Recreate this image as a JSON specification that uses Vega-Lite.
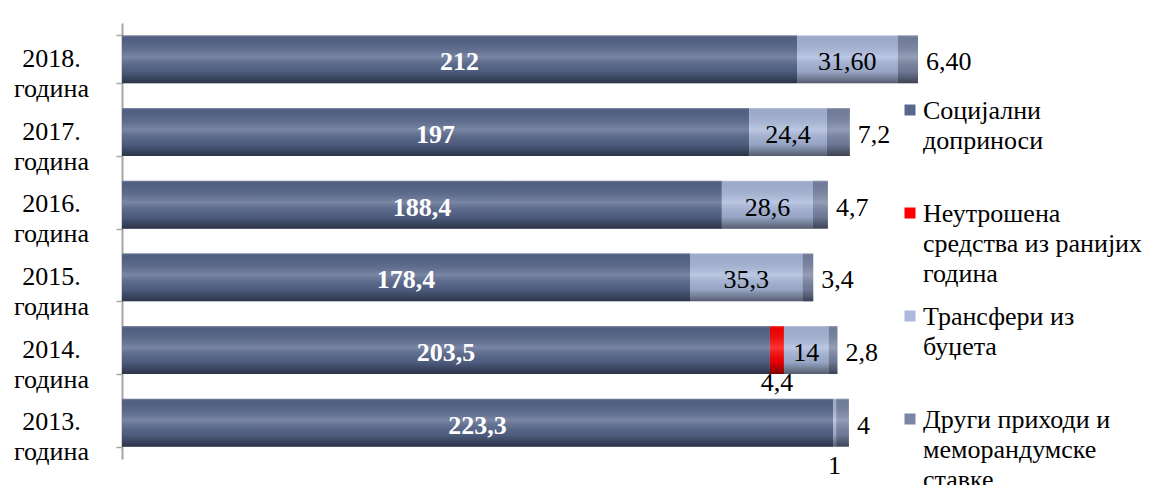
{
  "$schema": "https://vega.github.io/schema/vega-lite/v6.json",
  "autosize": {"type": "none"},
  "width": 796,
  "height": 436,
  "padding": {"left": 122, "top": 23, "right": 231, "bottom": 26},
  "background": "white",
  "config": {"view": {"stroke": null}},
  "data": {
    "values": [
      {"year": "2018.", "series": "Социјални доприноси", "value": 212, "label": "212"},
      {"year": "2018.", "series": "Трансфери из буџета", "value": 31.6, "label": "31,60"},
      {"year": "2018.", "series": "Други приходи и меморандумске ставке", "value": 6.4, "label": "6,40"},
      {"year": "2017.", "series": "Социјални доприноси", "value": 197, "label": "197"},
      {"year": "2017.", "series": "Трансфери из буџета", "value": 24.4, "label": "24,4"},
      {"year": "2017.", "series": "Други приходи и меморандумске ставке", "value": 7.2, "label": "7,2"},
      {"year": "2016.", "series": "Социјални доприноси", "value": 188.4, "label": "188,4"},
      {"year": "2016.", "series": "Трансфери из буџета", "value": 28.6, "label": "28,6"},
      {"year": "2016.", "series": "Други приходи и меморандумске ставке", "value": 4.7, "label": "4,7"},
      {"year": "2015.", "series": "Социјални доприноси", "value": 178.4, "label": "178,4"},
      {"year": "2015.", "series": "Трансфери из буџета", "value": 35.3, "label": "35,3"},
      {"year": "2015.", "series": "Други приходи и меморандумске ставке", "value": 3.4, "label": "3,4"},
      {"year": "2014.", "series": "Социјални доприноси", "value": 203.5, "label": "203,5"},
      {"year": "2014.", "series": "Неутрошена средства из ранијих година", "value": 4.4, "label": "4,4"},
      {"year": "2014.", "series": "Трансфери из буџета", "value": 14, "label": "14"},
      {"year": "2014.", "series": "Други приходи и меморандумске ставке", "value": 2.8, "label": "2,8"},
      {"year": "2013.", "series": "Социјални доприноси", "value": 223.3, "label": "223,3"},
      {"year": "2013.", "series": "Трансфери из буџета", "value": 1, "label": "1"},
      {"year": "2013.", "series": "Други приходи и меморандумске ставке", "value": 4, "label": "4"}
    ]
  },
  "transform": [
    {"calculate": "indexof(['Социјални доприноси','Неутрошена средства из ранијих година','Трансфери из буџета','Други приходи и меморандумске ставке'], datum.series)", "as": "k"},
    {"stack": "value", "groupby": ["year"], "sort": [{"field": "k", "order": "ascending"}], "as": ["x0", "x1"]},
    {"calculate": "(datum.x0 + datum.x1) / 2", "as": "xm"}
  ],
  "encoding": {
    "y": {
      "field": "year", "type": "nominal",
      "sort": ["2018.", "2017.", "2016.", "2015.", "2014.", "2013."],
      "scale": {"paddingInner": 0.34, "paddingOuter": 0.17},
      "axis": {
        "title": null,
        "labelExpr": "indexof(['2018.','2017.','2016.','2015.','2014.','2013.'], datum.label) >= 0 ? [datum.label, 'година'] : ''",
        "labelFont": "Liberation Serif",
        "labelFontSize": 26,
        "labelColor": "black",
        "labelAlign": "center",
        "labelBaseline": "middle",
        "labelLineHeight": 30,
        "labelPadding": 65,
        "labelOffset": -1,
        "tickBand": "extent",
        "tickOffset": 10,
        "tickSize": 6,
        "tickColor": "#a6a6a6",
        "tickWidth": 1.5,
        "domainColor": "#a6a6a6",
        "domainWidth": 2,
        "grid": false
      }
    }
  },
  "layer": [
    {
      "mark": {"type": "bar"},
      "encoding": {
        "x": {"field": "x0", "type": "quantitative", "scale": {"domain": [0, 250], "nice": false, "zero": true}, "axis": null},
        "x2": {"field": "x1"},
        "color": {
          "field": "series", "type": "nominal",
          "scale": {
            "domain": ["Социјални доприноси", "Неутрошена средства из ранијих година", "Трансфери из буџета", "Други приходи и меморандумске ставке"],
            "range": ["#57678d", "#ff0000", "#aab9dc", "#7a86a6"]
          },
          "legend": {
            "orient": "none",
            "legendX": 775,
            "legendY": 74,
            "title": null,
            "padding": 0,
            "symbolType": "square",
            "symbolSize": 121,
            "symbolStrokeWidth": 0,
            "symbolOpacity": 1,
            "labelFont": "Liberation Serif",
            "labelFontSize": 26,
            "labelColor": "black",
            "labelLimit": 400,
            "labelOffset": 0,
            "labelBaseline": "alphabetic",
            "rowPadding": 16,
            "labelExpr": "datum.label == 'Социјални доприноси' ? ['Социјални','доприноси',' '] : datum.label == 'Неутрошена средства из ранијих година' ? ['Неутрошена','средства из ранијих','година'] : datum.label == 'Трансфери из буџета' ? ['Трансфери из','буџета',' '] : ['Други приходи и','меморандумске','ставке']",
            "encode": {
              "labels": {"update": {"dy": {"value": 9}, "lineHeight": {"value": 30}}}
            }
          }
        }
      }
    },
    {
      "mark": {
        "type": "bar",
        "fill": {
          "gradient": "linear", "x1": 0, "y1": 0, "x2": 0, "y2": 1,
          "stops": [
            {"offset": 0, "color": "rgba(255,255,255,0.3)"},
            {"offset": 0.05, "color": "rgba(0,0,0,0.08)"},
            {"offset": 0.45, "color": "rgba(255,255,255,0.2)"},
            {"offset": 0.75, "color": "rgba(0,0,0,0.1)"},
            {"offset": 1, "color": "rgba(0,0,0,0.5)"}
          ]
        }
      },
      "encoding": {
        "x": {"field": "x0", "type": "quantitative"},
        "x2": {"field": "x1"},
        "detail": {"field": "series"}
      }
    },
    {
      "transform": [{"filter": "datum.series == 'Социјални доприноси'"}],
      "mark": {"type": "text", "font": "Liberation Serif", "fontSize": 26, "fontWeight": "bold", "color": "white", "dy": 3},
      "encoding": {
        "x": {"field": "xm", "type": "quantitative"},
        "text": {"field": "label"}
      }
    },
    {
      "transform": [{"filter": "datum.series == 'Трансфери из буџета' && datum.value > 5"}],
      "mark": {"type": "text", "font": "Liberation Serif", "fontSize": 26, "color": "black", "dy": 3},
      "encoding": {
        "x": {"field": "xm", "type": "quantitative"},
        "text": {"field": "label"}
      }
    },
    {
      "transform": [{"filter": "datum.series == 'Други приходи и меморандумске ставке'"}],
      "mark": {"type": "text", "font": "Liberation Serif", "fontSize": 26, "color": "black", "align": "left", "dx": 8, "dy": 3},
      "encoding": {
        "x": {"field": "x1", "type": "quantitative"},
        "text": {"field": "label"}
      }
    },
    {
      "transform": [{"filter": "datum.series == 'Неутрошена средства из ранијих година'"}],
      "mark": {"type": "text", "font": "Liberation Serif", "fontSize": 26, "color": "black", "dy": 33},
      "encoding": {
        "x": {"field": "xm", "type": "quantitative"},
        "text": {"field": "label"}
      }
    },
    {
      "transform": [{"filter": "datum.series == 'Трансфери из буџета' && datum.value < 5"}],
      "mark": {"type": "text", "font": "Liberation Serif", "fontSize": 26, "color": "black", "dy": 43},
      "encoding": {
        "x": {"field": "xm", "type": "quantitative"},
        "text": {"field": "label"}
      }
    }
  ]
}
